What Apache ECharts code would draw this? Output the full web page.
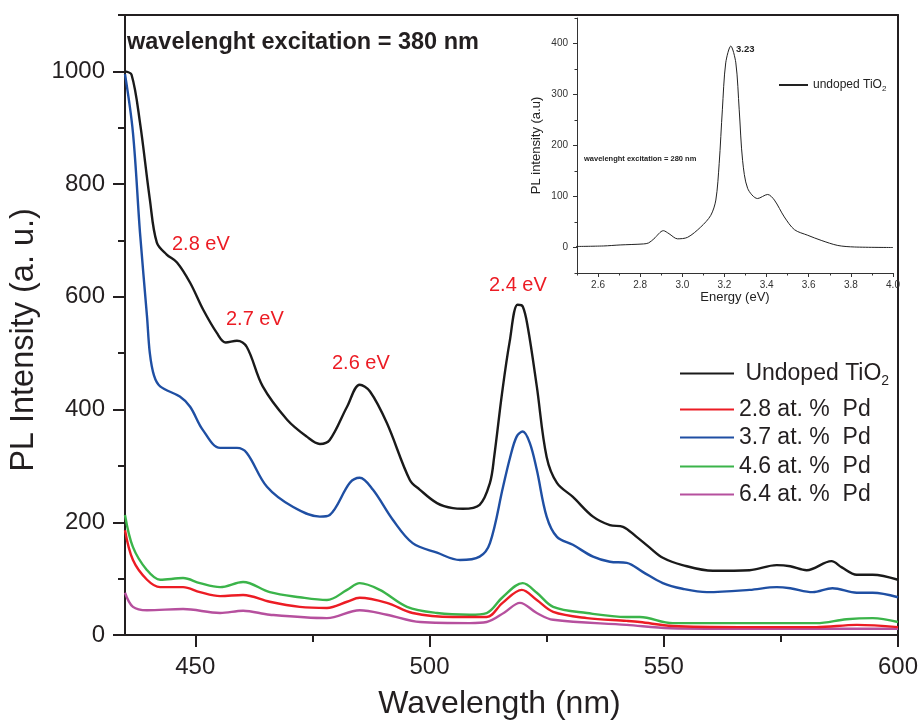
<!DOCTYPE html>
<html>
<head>
<meta charset="utf-8">
<script src="https://cdn.jsdelivr.net/npm/echarts@6/dist/echarts.min.js"></script>
<style>
  html, body { margin: 0; padding: 0; background: #fff; }
  #chart { width: 922px; height: 720px; }
</style>
</head>
<body>
<div id="chart"></div>
<script>
// ---- PL spectra, excitation 380 nm (wavelength in nm, intensity in a.u.) ----
const undopedNm = [435, 436.4, 438.2, 440.3, 441.8, 443.9, 446.1, 448.9, 451.7, 454.6, 456.5, 458.9, 461, 464.4, 469.6, 473.8, 476.6, 478.7, 482.4, 485.1, 487.3, 490.9, 495.8, 497.9, 501.6, 505, 507.1, 510.7, 512.9, 513.8, 515.5, 517.1, 518.8, 519.9, 521, 522.9, 525, 527.2, 530.6, 534.9, 538.5, 541.3, 544.2, 547, 549.8, 554, 560.5, 568.3, 574.1, 577, 580.5, 585.8, 588, 591.2, 594.6, 600];
const undopedPL = [1000, 994, 909, 773, 696, 675, 661, 625, 577, 536, 519, 522, 511, 441, 382, 352, 339, 346, 405, 444, 432, 376, 275, 258, 234, 225, 224, 231, 270, 316, 430, 520, 586, 583, 545, 441, 316, 270, 245, 210, 195, 192, 174, 155, 137, 124, 114, 115, 124, 122, 115, 131, 120, 107, 107, 98];

const pd28Nm = [435, 436.7, 439.7, 442.5, 447.4, 451, 455.3, 460.2, 465.9, 472.3, 478.1, 482.4, 485.1, 490.9, 496.4, 505, 512.2, 515.6, 519.7, 522.9, 526.4, 533.6, 542.1, 544.9, 551.9, 566.2, 582.6, 591.2, 600];
const pd28PL = [186, 133, 98, 85, 85, 76, 69, 71, 59, 50, 48, 59, 66, 57, 39, 32, 32, 57, 80, 62, 41, 30, 25, 23, 16, 14, 14, 18, 14];

const pd37Nm = [435, 436.7, 438.2, 439.7, 440.3, 441.2, 442.5, 446.7, 448.9, 451.6, 455.3, 458.9, 461, 465.3, 470.9, 476.6, 478.7, 483, 485.1, 487.9, 492.2, 496.4, 501.6, 506.5, 510.7, 512.9, 515.7, 517.2, 518.6, 519.9, 521.4, 522.9, 525, 527.2, 530.6, 534.9, 538.5, 542.1, 545.5, 549.8, 554, 559.2, 568.3, 574.1, 577, 581.8, 586, 591.2, 594.6, 600];
const pd37PL = [995, 891, 714, 565, 500, 460, 441, 423, 405, 364, 332, 332, 323, 263, 227, 210, 213, 270, 279, 258, 204, 163, 146, 133, 139, 163, 263, 315, 352, 361, 341, 293, 210, 174, 160, 139, 130, 128, 112, 92, 82, 76, 80, 85, 83, 76, 83, 75, 75, 67];

const pd46Nm = [435, 436.7, 439.7, 442.5, 447.4, 451, 455.3, 460.2, 465.9, 472.3, 478.1, 482.4, 485.1, 489.4, 495.2, 501.6, 508.6, 512.2, 515.6, 519.9, 522.9, 526.4, 533.6, 542.1, 544.9, 551.9, 566.2, 582.6, 589, 594.6, 600];
const pd46PL = [213, 156, 115, 98, 101, 92, 85, 94, 76, 67, 62, 80, 92, 80, 50, 39, 36, 39, 67, 92, 75, 50, 39, 32, 32, 21, 21, 21, 28, 30, 23];

const pd64Nm = [435, 436.7, 439.7, 447.4, 455.3, 460.2, 465.9, 478.1, 485.1, 490.9, 498, 508.6, 512.2, 516, 519.3, 522.9, 526.4, 542.1, 551.3, 570, 600];
const pd64PL = [75, 50, 44, 46, 39, 43, 36, 30, 44, 36, 23, 21, 23, 40, 57, 39, 27, 18, 12, 11, 11];

const seriesNames = ['Undoped TiO2', '2.8 at. %  Pd', '3.7 at. %  Pd', '4.6 at. %  Pd', '6.4 at. %  Pd'];
const peakLabels = ['2.8 eV', '2.7 eV', '2.6 eV', '2.4 eV'];

// ---- inset: undoped TiO2, excitation 280 nm (energy in eV) ----
const insetEv = [2.49, 2.625, 2.705, 2.816, 2.84, 2.865, 2.91, 2.937, 2.977, 3.025, 3.087, 3.135, 3.159, 3.175, 3.19, 3.206, 3.23, 3.254, 3.27, 3.286, 3.31, 3.357, 3.405, 3.437, 3.484, 3.532, 3.595, 3.659, 3.738, 3.817, 4.0];
const insetPL = [2, 3, 5, 7, 9, 17, 33, 27, 17, 20, 40, 63, 93, 165, 270, 362, 395, 362, 270, 171, 116, 96, 104, 93, 60, 35, 24, 14, 4, 1, 0];
const insetName = 'undoped TiO2';
const insetPeak = '3.23';

// ---- tick values ----
const mainXTicks = [450, 500, 550, 600];
const mainXMinor = [475, 525, 575];
const mainYTicks = [0, 200, 400, 600, 800, 1000];
const mainYMinor = [100, 300, 500, 700, 900, 1100];
const insetXTicks = [2.6, 2.8, 3.0, 3.2, 3.4, 3.6, 3.8, 4.0];
const insetXMinor = [2.5, 2.7, 2.9, 3.1, 3.3, 3.5, 3.7, 3.9];
const insetYTicks = [0, 100, 200, 300, 400];
const insetYMinor = [-50, 50, 150, 250, 350, 450];

const zip = (xs, ys) => xs.map((x, i) => [x, ys[i]]);
const colors = ['#1a1a1a', '#ec1c24', '#1f4fa3', '#3bb44a', '#b6509e'];
const mainData = [
  zip(undopedNm, undopedPL),
  zip(pd28Nm, pd28PL),
  zip(pd37Nm, pd37PL),
  zip(pd46Nm, pd46PL),
  zip(pd64Nm, pd64PL)
];

const FONT = '"Liberation Sans", Arial, Helvetica, sans-serif';
const INK = '#231f20';

const subRich = {
  n: { fontFamily: FONT, fontSize: 23, color: INK, lineHeight: 30 },
  s: { fontFamily: FONT, fontSize: 14, color: INK, lineHeight: 10, verticalAlign: 'bottom' }
};
const insetRich = {
  n: { fontFamily: FONT, fontSize: 12, color: '#222', lineHeight: 16 },
  s: { fontFamily: FONT, fontSize: 8, color: '#222', lineHeight: 6, verticalAlign: 'bottom' }
};
const subFormat = (name, style) => name.endsWith('O2')
  ? '{n|' + (style === 'main' ? ' ' : '') + name.slice(0, -1) + '}{s|2}'
  : '{n|' + name + '}';

// one legend box per entry so each row sits where it should
const legendRows = [373, 409, 437, 466, 494];
const legends = seriesNames.map((name, i) => ({
  data: [name],
  left: 679,
  top: legendRows[i] - 11,
  padding: 0,
  itemWidth: 54,
  itemHeight: 14,
  itemGap: 0,
  itemStyle: { opacity: 0 },
  selectedMode: false,
  formatter: n => subFormat(n, 'main'),
  textStyle: { rich: subRich }
}));
legends.push({
  data: [insetName],
  left: 778,
  top: 84 - 5,
  padding: 0,
  itemWidth: 29,
  itemHeight: 10,
  itemStyle: { opacity: 0 },
  selectedMode: false,
  formatter: n => subFormat(n, 'inset'),
  textStyle: { rich: insetRich }
});

const mainSeries = seriesNames.map((name, i) => ({
  name,
  type: 'line',
  xAxisIndex: 0,
  yAxisIndex: 0,
  data: mainData[i],
  symbol: 'none',
  smooth: 0.35,
  lineStyle: { color: colors[i], width: 2.4 },
  itemStyle: { color: colors[i] },
  z: 10 - i,
  silent: true
}));

const peakPos = [[172, 245], [226, 320], [332, 364], [489, 286]];

// helper for tick-only overlay axes
const tickAxis = (grid, min, max, position, values, len, color, width) => ({
  type: 'value', gridIndex: grid, min, max, position,
  axisLine: { show: false, onZero: false },
  axisTick: { show: true, inside: false, customValues: values, length: len, lineStyle: { color, width } },
  axisLabel: { show: false }, splitLine: { show: false }
});
const frameAxis = (grid, min, max, position) => ({
  type: 'value', gridIndex: grid, min, max, position,
  axisLine: { show: true, onZero: false, lineStyle: { color: INK, width: 2 } },
  axisTick: { show: false }, axisLabel: { show: false }, splitLine: { show: false }
});

const option = {
  animation: false,
  backgroundColor: '#fff',
  title: {
    text: 'wavelenght excitation = 380 nm',
    left: 127,
    top: 31,
    padding: 0,
    textStyle: { fontFamily: FONT, fontSize: 23.5, fontWeight: 'bold', color: INK, lineHeight: 24 }
  },
  legend: legends,
  grid: [
    { left: 125, right: 24, top: 15, bottom: 85, containLabel: false, outerBoundsMode: 'none' },
    { left: 577, right: 29, top: 18, bottom: 447, containLabel: false, outerBoundsMode: 'none' }
  ],
  xAxis: [
    { // main wavelength axis
      type: 'value', gridIndex: 0, min: 435, max: 600, position: 'bottom',
      name: 'Wavelength (nm)', nameLocation: 'middle', nameGap: 53,
      nameTextStyle: { fontFamily: FONT, fontSize: 32, color: INK, padding: [0, 24, 0, 0] },
      axisLine: { show: true, onZero: false, lineStyle: { color: INK, width: 2 } },
      axisTick: { show: true, customValues: mainXTicks, length: 12, lineStyle: { color: INK, width: 2 } },
      axisLabel: { customValues: mainXTicks, margin: 20, fontFamily: FONT, fontSize: 24, color: INK },
      splitLine: { show: false }
    },
    tickAxis(0, 435, 600, 'bottom', mainXMinor, 7, INK, 2),
    frameAxis(0, 435, 600, 'top'),
    { // inset energy axis
      type: 'value', gridIndex: 1, min: 2.5, max: 4.0, position: 'bottom',
      name: 'Energy (eV)', nameLocation: 'middle', nameGap: 17,
      nameTextStyle: { fontFamily: FONT, fontSize: 13, color: '#222' },
      axisLine: { show: true, onZero: false, lineStyle: { color: '#333', width: 1 } },
      axisTick: { show: true, customValues: insetXTicks, length: 4, lineStyle: { color: '#333', width: 1 } },
      axisLabel: { customValues: insetXTicks, margin: 7, fontFamily: FONT, fontSize: 10, color: '#333',
        formatter: v => v.toFixed(1) },
      splitLine: { show: false }
    },
    tickAxis(1, 2.5, 4.0, 'bottom', insetXMinor, 2.5, '#333', 1)
  ],
  yAxis: [
    { // main intensity axis
      type: 'value', gridIndex: 0, min: 0, max: 1100, position: 'left',
      name: 'PL Intensity (a. u.)', nameLocation: 'middle', nameGap: 71,
      nameTextStyle: { fontFamily: FONT, fontSize: 32.5, color: INK, padding: [0, 30, 0, 0] },
      axisLine: { show: true, onZero: false, lineStyle: { color: INK, width: 2 } },
      axisTick: { show: true, customValues: mainYTicks, length: 12, lineStyle: { color: INK, width: 2 } },
      axisLabel: { customValues: mainYTicks, margin: 20, fontFamily: FONT, fontSize: 24, color: INK,
        formatter: v => String(v) },
      splitLine: { show: false }
    },
    tickAxis(0, 0, 1100, 'left', mainYMinor, 7, INK, 2),
    frameAxis(0, 0, 1100, 'right'),
    { // inset intensity axis
      type: 'value', gridIndex: 1, min: -50, max: 450, position: 'left',
      name: 'PL intensity (a.u)', nameLocation: 'middle', nameGap: 34,
      nameTextStyle: { fontFamily: FONT, fontSize: 13, color: '#222' },
      axisLine: { show: true, onZero: false, lineStyle: { color: '#333', width: 1 } },
      axisTick: { show: true, customValues: insetYTicks, length: 4, lineStyle: { color: '#333', width: 1 } },
      axisLabel: { customValues: insetYTicks, margin: 9, fontFamily: FONT, fontSize: 10, color: '#333' },
      splitLine: { show: false }
    },
    tickAxis(1, -50, 450, 'left', insetYMinor, 2.5, '#333', 1)
  ],
  series: mainSeries.concat([{
    name: insetName,
    type: 'line',
    xAxisIndex: 3,
    yAxisIndex: 3,
    data: zip(insetEv, insetPL),
    symbol: 'none',
    smooth: 0.3,
    lineStyle: { color: '#222', width: 1 },
    itemStyle: { color: '#222' },
    silent: true
  }]),
  graphic: peakLabels.map((t, i) => ({
    type: 'text',
    left: peakPos[i][0],
    top: peakPos[i][1] - 11,
    style: { text: t, fill: '#ec1c24', font: '20px ' + FONT }
  })).concat([
    {
      type: 'text', left: 736, top: 44,
      style: { text: insetPeak, fill: '#222', font: 'bold 9.5px ' + FONT }
    },
    {
      type: 'text', left: 584, top: 155,
      style: { text: 'wavelenght excitation = 280 nm', fill: '#222', font: 'bold 7.5px ' + FONT }
    }
  ])
};

const chart = echarts.init(document.getElementById('chart'), null, { renderer: 'canvas' });
chart.setOption(option);
</script>
</body>
</html>
